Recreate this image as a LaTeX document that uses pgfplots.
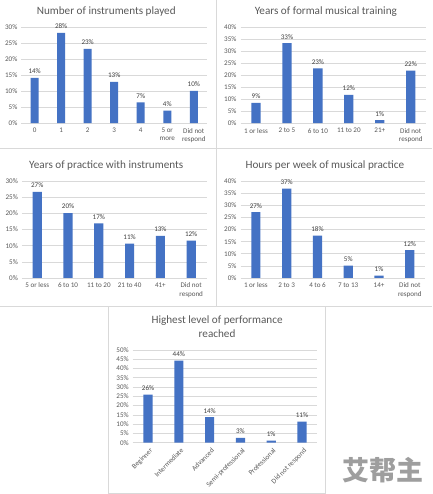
\documentclass[border=0pt]{standalone}
\usepackage{fontspec}
\setmainfont{Carlito}
\newfontfamily\cjk{Noto Sans CJK SC}
\usepackage{pgfplots}
\pgfplotsset{compat=1.18}
\definecolor{barblue}{HTML}{4472C4}
\definecolor{gridgray}{HTML}{D9D9D9}
\definecolor{txtgray}{HTML}{595959}
\definecolor{lblgray}{HTML}{404040}
\pgfplotsset{
  exbar/.style={
    scale only axis, ybar, ymin=0, enlargelimits=false,
    anchor=south west,
    axis line style={draw=none}, major tick length=0pt,
    ymajorgrids, grid style={gridgray, line width=0.6pt},
    xtick=data,
    /pgf/number format/assume math mode=true,
    yticklabel={\pgfmathprintnumber{\tick}\%},
    ticklabel style={font=\fontsize{7.1}{8.2}\selectfont, text=txtgray},
    xticklabel style={align=center, yshift=-1.5pt},
    yticklabel style={xshift=-0.5pt},
    nodes near coords={\pgfmathprintnumber[fixed,precision=0]{\pgfplotspointmeta}\%},
    nodes near coords style={font=\fontsize{7.1}{8.2}\selectfont, text=lblgray, yshift=0.5pt},
  },
}
\tikzset{ttl/.style={font=\fontsize{11.2}{13.5}\selectfont, text=txtgray, align=center}}
\begin{document}
\begin{tikzpicture}
\path[fill=white] (0pt,0pt) rectangle (432pt,-494pt);
\draw[gridgray, line width=0.8pt] (216pt,0pt) -- (216pt,-306pt);
\draw[gridgray, line width=0.8pt] (0pt,-148pt) -- (432pt,-148pt);
\draw[gridgray, line width=0.8pt] (0pt,-306pt) -- (432pt,-306pt);
\draw[gridgray, line width=0.8pt] (108pt,-306pt) rectangle (326pt,-494pt);

% Panel 1
\node[ttl] at (106pt,-11pt) {Number of instruments played};
\begin{axis}[exbar, at={(21pt,-123pt)}, width=186pt, height=96pt,
  ymax=30, ytick={0,5,...,30}, xmin=-0.5, xmax=6.5, bar width=8pt,
  xticklabels={0,1,2,3,4,{5 or\\more},{Did not\\respond}}]
\addplot[fill=barblue, draw=none] coordinates {(0,14.2) (1,28.3) (2,23.3) (3,12.9) (4,6.5) (5,3.9) (6,10.1)};
\end{axis}

% Panel 2
\node[ttl] at (326pt,-11pt) {Years of formal musical training};
\begin{axis}[exbar, at={(240.5pt,-123pt)}, width=186pt, height=96pt,
  ymax=40, ytick={0,5,...,40}, xmin=-0.5, xmax=5.5, bar width=9.3pt,
  xticklabels={1 or less,2 to 5,6 to 10,11 to 20,21+,{Did not\\respond}}]
\addplot[fill=barblue, draw=none] coordinates {(0,8.5) (1,33.4) (2,22.9) (3,11.8) (4,1.25) (5,21.9)};
\end{axis}

% Panel 3
\node[ttl] at (106pt,-165pt) {Years of practice with instruments};
\begin{axis}[exbar, at={(21.5pt,-278pt)}, width=185pt, height=97pt,
  ymax=30, ytick={0,5,...,30}, xmin=-0.5, xmax=5.5, bar width=9.2pt,
  xticklabels={5 or less,6 to 10,11 to 20,21 to 40,41+,{Did not\\respond}}]
\addplot[fill=barblue, draw=none] coordinates {(0,26.7) (1,20.1) (2,16.9) (3,10.6) (4,13.0) (5,11.6)};
\end{axis}

% Panel 4
\node[ttl] at (325pt,-165pt) {Hours per week of musical practice};
\begin{axis}[exbar, at={(240.5pt,-278pt)}, width=185pt, height=97pt,
  ymax=40, ytick={0,5,...,40}, xmin=-0.5, xmax=5.5, bar width=9.2pt,
  xticklabels={1 or less,2 to 3,4 to 6,7 to 13,14+,{Did not\\respond}}]
\addplot[fill=barblue, draw=none] coordinates {(0,27.2) (1,36.9) (2,17.5) (3,5.1) (4,1.0) (5,11.5)};
\end{axis}

% Panel 5
\node[ttl] at (217pt,-327pt) {Highest level of performance\\reached};
\begin{axis}[exbar, at={(132.5pt,-443pt)}, width=185pt, height=93pt,
  ymax=50, ytick={0,5,...,50}, xmin=-0.5, xmax=5.5, bar width=9.2pt,
  xticklabel style={rotate=45, anchor=north east, yshift=0pt, xshift=2pt},
  xticklabels={Beginner,Intermediate,Advanced,Semi-professional,Professional,Did not respond}]
\addplot[fill=barblue, draw=none] coordinates {(0,25.9) (1,44.2) (2,13.7) (3,2.6) (4,1.1) (5,11.3)};
\end{axis}

\node[font=\cjk\bfseries\fontsize{27}{27}\selectfont, text=black!38] at (383pt,-470pt) {艾帮主};
\end{tikzpicture}
\end{document}
